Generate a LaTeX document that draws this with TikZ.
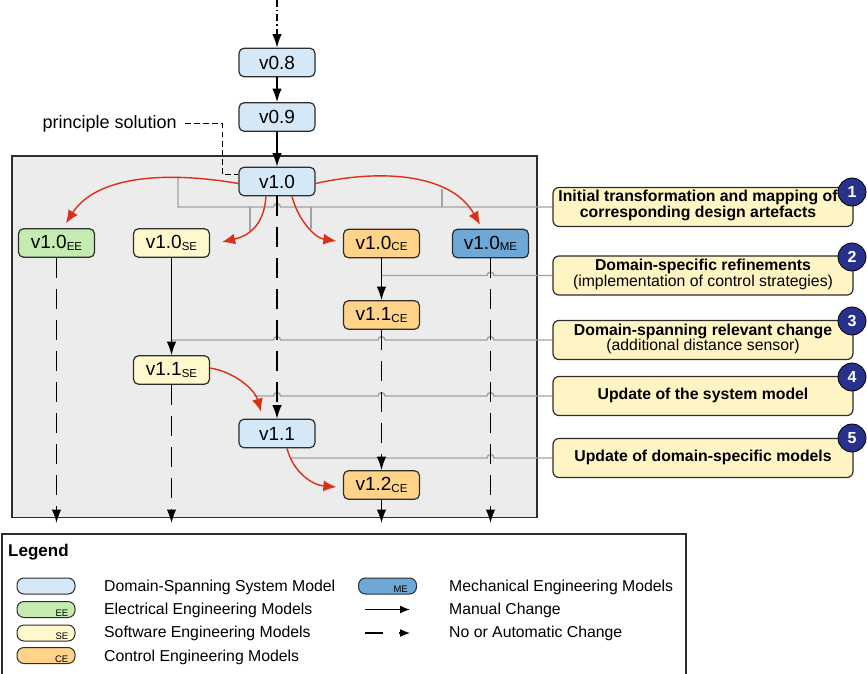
\documentclass[tikz,border=0pt]{standalone}
\usepackage{fontspec}
\setmainfont{Liberation Sans}
\usetikzlibrary{arrows.meta,calc,intersections}
\pgfdeclarelayer{bg}
\pgfdeclarelayer{mid}
\pgfsetlayers{bg,mid,main}

\definecolor{sysblue}{RGB}{213,232,248}
\definecolor{eegreen}{RGB}{196,236,176}
\definecolor{seyellow}{RGB}{255,248,204}
\definecolor{ceorange}{RGB}{255,212,136}
\definecolor{meblue}{RGB}{110,168,214}
\definecolor{noteyellow}{RGB}{255,244,196}
\definecolor{panelgray}{RGB}{236,236,236}
\definecolor{leadgray}{RGB}{162,162,162}
\definecolor{changered}{RGB}{218,48,26}
\definecolor{stepnavy}{RGB}{40,50,140}
\definecolor{edgedark}{RGB}{45,45,45}

% lowered domain tag after a version number
\newcommand{\dsub}[1]{\raisebox{-1.5pt}{\fontsize{11.5}{12}\selectfont #1}}
% small bridge where a leader line jumps over a vertical connector at x=#1, y=#2
\newcommand{\crosshop}[2]{-- ({#1-3.5},#2) .. controls ({#1-3.5},{#2-4.5}) and ({#1+3.5},{#2-4.5}) .. ({#1+3.5},#2)}

\begin{document}
\begin{tikzpicture}[x=1pt,y=-1pt,
  ver/.style={draw=edgedark, line width=1.2pt, rounded corners=5pt, minimum width=76pt,
    minimum height=28.5pt, inner sep=0pt, font=\fontsize{19}{22}\selectfont},
  sysm/.style={ver, fill=sysblue},
  eem/.style={ver, fill=eegreen},
  sem/.style={ver, fill=seyellow},
  cem/.style={ver, fill=ceorange},
  mem/.style={ver, fill=meblue},
  note/.style={draw=edgedark, line width=1.2pt, fill=noteyellow, rounded corners=6pt,
    minimum width=300pt, minimum height=39pt},
  notetext/.style={align=center, inner sep=0pt, font=\fontsize{15.8}{15.5}\selectfont\bfseries},
  stepno/.style={circle, draw=black, line width=0.8pt, fill=stepnavy, minimum size=28pt,
    inner sep=0pt, text=white, font=\fontsize{16}{16}\selectfont\bfseries},
  lead/.style={draw=leadgray, line width=1.4pt},
  redchange/.style={draw=changered, line width=1.4pt, -{Latex[length=13pt,width=11pt]}},
  manual/.style={draw=black, line width=1.4pt, -{Latex[length=13.5pt,width=9.5pt]}},
  autochg/.style={manual, dash pattern=on 20pt off 11pt},
  pill/.style={draw=edgedark, line width=1pt, rounded corners=7pt, minimum width=58pt,
    minimum height=16pt, inner sep=0pt},
  tag/.style={font=\fontsize{9.5}{10}\selectfont, inner sep=0pt, anchor=base east},
  lab/.style={font=\fontsize{15.8}{16}\selectfont, inner sep=0pt, anchor=base west}
]
\useasboundingbox (0,0) rectangle (867,674);
\clip (0,0) rectangle (867,674);

% panel holding the modelling steps
\begin{pgfonlayer}{bg}
  \draw[draw=edgedark, line width=1.3pt, fill=panelgray] (12,156) rectangle (537,517.5);
\end{pgfonlayer}

% model versions
\node[sysm] (v08) at (277,62.5) {v0.8};
\node[sysm] (v09) at (277,117) {v0.9};
\node[sysm] (v10) at (277,181.5) {v1.0};
\node[eem] (v10ee) at (56.5,243) {v1.0\dsub{EE}};
\node[sem] (v10se) at (171.5,243) {v1.0\dsub{SE}};
\node[cem] (v10ce) at (381.5,243.5) {v1.0\dsub{CE}};
\node[mem] (v10me) at (490.5,243.5) {v1.0\dsub{ME}};
\node[cem] (v11ce) at (381.5,315) {v1.1\dsub{CE}};
\node[sem] (v11se) at (171.5,370) {v1.1\dsub{SE}};
\node[sysm] (v11) at (277,433.5) {v1.1};
\node[cem] (v12ce) at (381.5,485) {v1.2\dsub{CE}};

% principle solution annotation
\node[font=\fontsize{18}{20}\selectfont, anchor=east, inner xsep=8pt, inner ysep=2pt] (ps) at (185,124) {principle solution};
\coordinate (psbend) at (222,174);
\draw[line width=1pt, dash pattern=on 5.5pt off 3.5pt] (ps.east) -| (psbend) -- (psbend -| v10.west);

% step descriptions
\node[note] (c1) at (703,207) {};
\node[note] (c2) at (703,275.5) {};
\node[note] (c3) at (703,340) {};
\node[note] (c4) at (703,396) {};
\node[note] (c5) at (703,458) {};
\node[notetext] at ($(c1.center)+(-5,-1.5)$) {Initial transformation and mapping of\\corresponding design artefacts};
\node[notetext] at ($(c2.center)+(0,-1)$) {Domain-specific refinements\\{\mdseries (implementation of control strategies)}};
\node[notetext] at ($(c3.center)+(0,-1)$) {Domain-spanning relevant change\\{\mdseries (additional distance sensor)}};
\node[notetext] at ($(c4.center)+(0,-1)$) {Update of the system model};
\node[notetext] at ($(c5.center)+(0,-1)$) {Update of domain-specific models};
\node[stepno] (n1) at (852,192) {1};
\node[stepno] (n2) at (852,257) {2};
\node[stepno] (n3) at (852,321) {3};
\node[stepno] (n4) at (852,377) {4};
\node[stepno] (n5) at (852,438) {5};

% transformations (red)
\coordinate (tee) at ($(v10ee.north)+(9.5,-5)$);
\coordinate (tse) at ($(v10se.east)+(12,-1)$);
\coordinate (tce) at ($(v10ce.west)+(-6.5,-2.5)$);
\coordinate (tme) at ($(v10me.north)+(-10.5,-4)$);
\coordinate (t11) at ($(v11.north)+(-16,-7)$);
\coordinate (t12) at ($(v12ce.west)+(-6.5,2)$);
\draw[redchange, name path=ree] ($(v10.west)+(0,2)$) .. controls (160,170) and (95,178) .. (tee);
\draw[redchange, name path=rse] ($(v10.south)+(-11,0)$) .. controls (264,226) and (248,236) .. (tse);
\draw[redchange, name path=rce] ($(v10.south)+(15,0)$) .. controls (298,220) and (315,238) .. (tce);
\draw[redchange, name path=rme] ($(v10.east)+(0,2)$) .. controls (385,168) and (452,175) .. (tme);
\draw[redchange, name path=rsys] ($(v11se.east)+(0,-2)$) .. controls (235,372) and (255,390) .. (t11);
\draw[redchange, name path=rcetwo] ($(v11.south)+(10,0)$) .. controls (293,472) and (312,485) .. (t12);

% points where the leader lines meet the transformations
\path[name path=kee] (178,150) -- (178,215);
\path[name intersections={of=ree and kee, by=iee}];
\path[name path=kse] (250,200) -- (250,260);
\path[name intersections={of=rse and kse, by=ise}];
\path[name path=kce] (311,200) -- (311,260);
\path[name intersections={of=rce and kce, by=ice}];
\path[name path=kme] (442,160) -- (442,215);
\path[name intersections={of=rme and kme, by=ime}];
\path[name path=ksys] (215,396) -- (275,396);
\path[name intersections={of=rsys and ksys, by=isys}];
\path[name path=kcetwo] (280,458) -- (330,458);
\path[name intersections={of=rcetwo and kcetwo, by=icetwo}];

% leader lines to the step descriptions
\begin{pgfonlayer}{mid}
  \draw[lead] (iee) -- (iee |- c1.west) \crosshop{277}{207} -- (c1.west);
  \draw[lead] (ise) -- (ise |- c1.west);
  \draw[lead] (ice) -- (ice |- c1.west);
  \draw[lead] (ime) -- (ime |- c1.west);
  \draw[lead] (c2.west -| v10ce.south) \crosshop{490.5}{275.5} -- (c2.west);
  \draw[lead] (c3.west -| v10se.south) \crosshop{277}{340} \crosshop{381.5}{340} \crosshop{490.5}{340} -- (c3.west);
  \draw[lead] (isys) \crosshop{277}{396} \crosshop{381.5}{396} \crosshop{490.5}{396} -- (c4.west);
  \draw[lead] (icetwo) \crosshop{490.5}{458} -- (c5.west);
\end{pgfonlayer}

% version flow (black)
\coordinate (feed) at (277,0);
\coordinate (eeend) at (v10ee.south |- 0,523);
\coordinate (seend) at (v11se.south |- 0,523);
\coordinate (ceend) at (v12ce.south |- 0,523);
\coordinate (meend) at (v10me.south |- 0,523);
\draw[manual, dash pattern=on 7pt off 3pt on 1.5pt off 3pt] (feed) -- (v08);
\draw[manual] (v08) -- (v09);
\draw[manual] (v09) -- (v10);
\draw[autochg] (v10) -- (v11);
\draw[autochg] (v10ee) -- (eeend);
\draw[manual] (v10se) -- (v11se);
\draw[autochg] (v11se) -- (seend);
\draw[manual] (v10ce) -- (v11ce);
\draw[autochg] (v11ce) -- (v12ce);
\draw[autochg] (v12ce) -- (ceend);
\draw[autochg] (v10me) -- (meend);

% legend
\draw[draw=edgedark, line width=1.3pt] (2,534) rectangle (686,690);
\node[font=\fontsize{17}{17}\selectfont\bfseries, anchor=base west, inner sep=0pt] (lgtitle) at (8,556) {Legend};
\node[pill, fill=sysblue] (lgsys) at (46,586) {};
\node[pill, fill=eegreen] (lgee) at (46,609.5) {};
\node[pill, fill=seyellow] (lgse) at (46,633) {};
\node[pill, fill=ceorange] (lgce) at (46,655.5) {};
\node[pill, fill=meblue] (lgme) at (387.5,586) {};
\node[tag] at ($(lgee.east)+(-7,6.5)$) {EE};
\node[tag] at ($(lgse.east)+(-7,6.5)$) {SE};
\node[tag] at ($(lgce.east)+(-7,6.5)$) {CE};
\node[tag] at ($(lgme.east)+(-9,6.5)$) {ME};
\node[lab] at (104,591.7) {Domain-Spanning System Model};
\node[lab] at (104,614.3) {Electrical Engineering Models};
\node[lab] at (104,637.7) {Software Engineering Models};
\node[lab] at (104,661) {Control Engineering Models};
\node[lab] at (449,591.7) {Mechanical Engineering Models};
\node[lab] at (449,614.3) {Manual Change};
\node[lab] at (449,637.7) {No or Automatic Change};
\coordinate (ma) at (365,609.5);
\coordinate (mb) at (410,609.5);
\draw[manual, -{Latex[length=10pt,width=8pt]}] (ma) -- (mb);
\coordinate (na) at (365,633);
\coordinate (nb) at (383,633);
\coordinate (nc) at (399,633);
\coordinate (nd) at (410,633);
\draw[line width=1.3pt] (na) -- (nb);
\draw[line width=1.3pt, -{Latex[length=10pt,width=8pt]}] (nc) -- (nd);
\end{tikzpicture}
\end{document}
